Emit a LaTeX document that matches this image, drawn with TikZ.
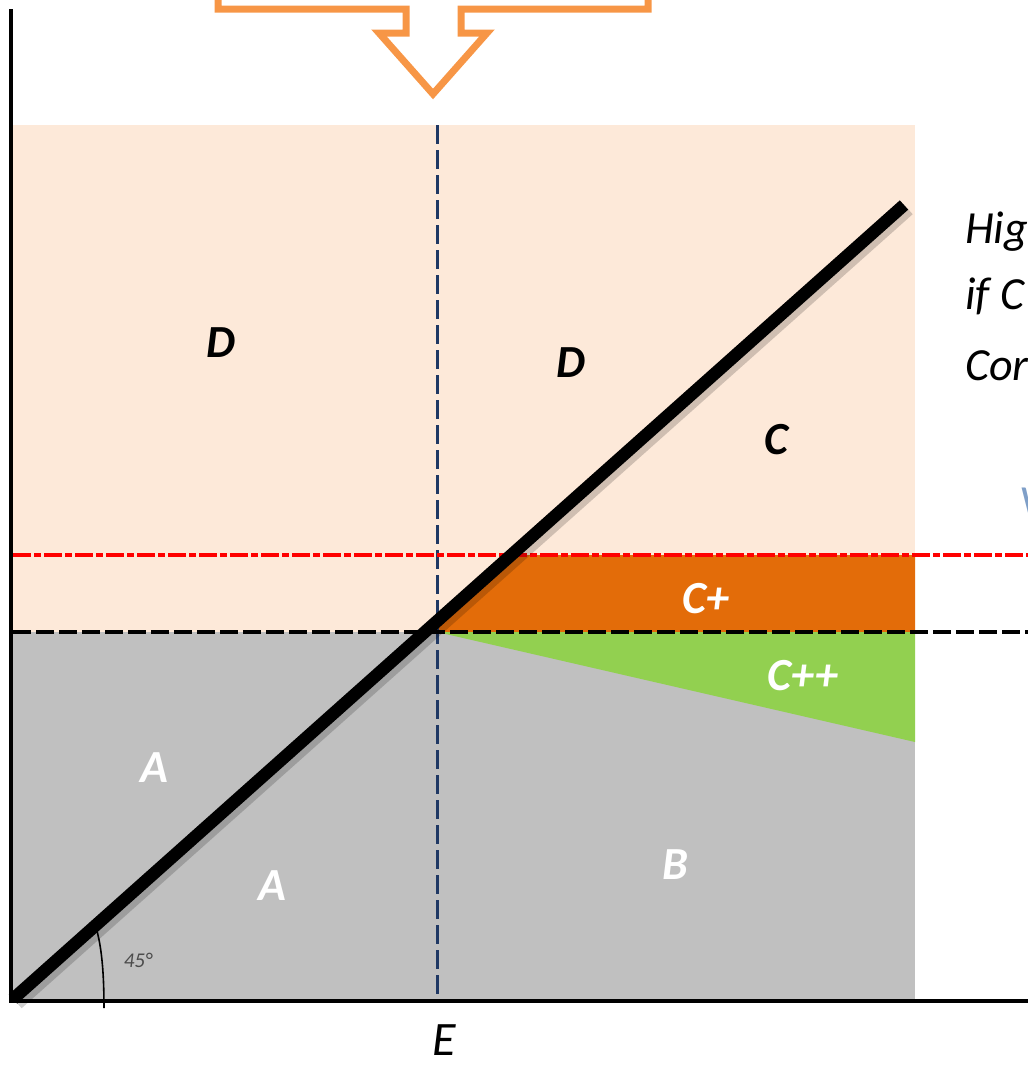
\documentclass[tikz,border=0pt]{standalone}
\usepackage{fontspec}
\setmainfont{Carlito}
\definecolor{peach}{HTML}{FDE9D9}
\definecolor{greyfill}{HTML}{C0C0C0}
\definecolor{cplus}{HTML}{E36C09}
\definecolor{cpp}{HTML}{92D050}
\definecolor{arroworange}{HTML}{F79646}
\definecolor{navy}{HTML}{1F3864}
\definecolor{bluegrey}{HTML}{7F9FC8}
\begin{document}
\begin{tikzpicture}[x=1pt,y=-1pt,
  biglbl/.style={font=\fontsize{46}{54}\selectfont\bfseries\itshape, inner sep=0pt},
  whitelbl/.style={biglbl, text=white},
  sidetext/.style={font=\fontsize{46}{54}\selectfont\itshape, inner sep=0pt, anchor=base west},
  axisline/.style={line width=4.5pt, black},
  navydash/.style={navy, line width=3pt, dash pattern=on 19pt off 6pt},
  blackdash/.style={black, line width=3.5pt, dash pattern=on 18pt off 5pt},
  reddashdot/.style={red, line width=4.5pt, dash pattern=on 18pt off 3pt on 7pt off 3pt},
  bigline/.style={line width=12.5pt, black},
  arrowoutline/.style={arroworange, line width=7pt, line join=miter}]
\useasboundingbox (0,0) rectangle (1028,1066);

% coordinates
\coordinate (O) at (13,999);
\coordinate (T) at (904,205);

% regions
\fill[peach] (13,125) rectangle (915,632);
\fill[greyfill] (13,632) rectangle (915,1000);
\fill[cplus] (423,632) -- (510,555) -- (915,555) -- (915,632) -- cycle;
\fill[cpp] (437,632) -- (915,632) -- (915,742) -- cycle;

% guide lines
\coordinate (vtop) at (437,125);
\coordinate (vbot) at (437,1000);
\draw[navydash] (vtop) -- (vbot);
\coordinate (rl) at (13,555);
\coordinate (rr) at (1030,555);
\draw[reddashdot] (rl) -- (rr);
\coordinate (bl) at (13,632);
\coordinate (br) at (1030,632);
\draw[blackdash] (bl) -- (br);

% axes
\coordinate (ytop) at (11,9);
\coordinate (xend) at (1030,1001);
\draw[axisline] (ytop) -- (11,1001) -- (xend);

% diagonal with soft shadow
\draw[line width=14pt, black, opacity=0.18] ([shift={(4,4)}]O) -- ([shift={(4,4)}]T);
\draw[bigline] (O) -- (T);

% angle mark
\coordinate (a1) at (104,1008);
\coordinate (a2) at (97,931);
\draw[black, line width=1.6pt] (a1) .. controls (104,975) and (102,950) .. (a2);
\node[font=\fontsize{21}{24}\selectfont\itshape, text=black!70, inner sep=0pt] (ang) at (138,960) {45°};

% top orange arrow outline
\draw[arrowoutline] (218,-10) -- (218,9) -- (406,9) -- (406,33) -- (379,33)
   -- (433,94) -- (487,33) -- (461,33) -- (461,9) -- (648,9) -- (648,-10);

% labels
\node[biglbl] (D1) at (221,343) {D};
\node[biglbl] (D2) at (571,363) {D};
\node[biglbl] (C) at (776,440) {C};
\node[whitelbl] (Cp) at (706,599) {C+};
\node[whitelbl] (Cpp) at (803,676) {C++};
\node[whitelbl] (A1) at (154,768) {A};
\node[whitelbl] (A2) at (272,886) {A};
\node[whitelbl] (B) at (675,865) {B};
\node[font=\fontsize{48}{56}\selectfont\itshape, inner sep=0pt] (E) at (444,1040) {E};

% right side text (cut by the frame, as in the reference)
\node[sidetext] (t1) at (965,243) {Hig};
\node[sidetext] (t2) at (965,309) {if C};
\node[sidetext] (t3) at (965,380) {Cor};
\node[sidetext, text=bluegrey] (t4) at (1019,517) {V};
\end{tikzpicture}
\end{document}
